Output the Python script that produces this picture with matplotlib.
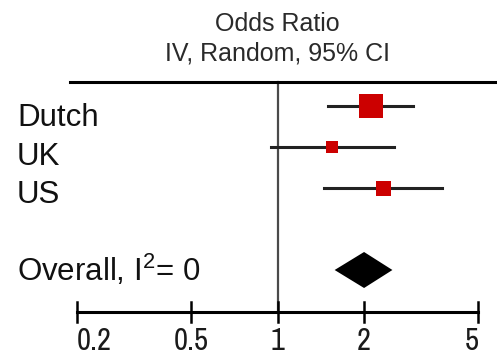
import matplotlib.pyplot as plt
import matplotlib.transforms as mtransforms
from matplotlib import font_manager
import numpy as np

# studies, odds ratios and 95% CI
studies = ['Dutch', 'UK', 'US']
odds = [2.11, 1.55, 2.33]
ci_low = [1.50, 0.95, 1.45]
ci_high = [2.97, 2.55, 3.72]
weights = [59, 16, 25]  # % weight, square area

overall_or = 2.0
overall_low = 1.58
overall_high = 2.51
overall_label = r'Overall, I$^\mathrm{2}$= 0'

tick_vals = [0.2, 0.5, 1, 2, 5]
tick_labels = ['0.2', '0.5', '1', '2', '5']

# layout (y in pixels from top)
row_y = [106, 147, 188]
label_y = [126, 165, 203]
overall_y = 270
overall_label_y = 281
top_line_y = 82
axis_y = 312

# a regular-weight condensed sans for the tick labels, if one is installed
narrow = None
for f in font_manager.fontManager.ttflist:
    if any(k in f.name for k in ('Narrow', 'Condensed')) and 'Mono' not in f.name \
            and 'Serif' not in f.name and f.style == 'normal' \
            and f.weight in (400, 'normal', 'regular'):
        narrow = f.name
        break
if narrow is None:
    narrow = 'Liberation Sans'

plt.rcParams['font.family'] = ['Liberation Sans', 'DejaVu Sans']
plt.rcParams['mathtext.fontset'] = 'custom'
plt.rcParams['mathtext.rm'] = 'Liberation Sans'

fig = plt.figure(figsize=(4.97, 3.6), dpi=100)
ax = fig.add_axes([0, 0, 1, 1])
ax.set_xscale('log')
ax.set_xlim(0.1083, 5.80)
ax.set_ylim(360, 0)
ax.axis('off')
blend = mtransforms.blended_transform_factory(ax.transAxes, ax.transData)

# header
ax.text(1.0, 24, 'Odds Ratio', ha='center', va='center', fontsize=18, color='#2a2a2a')
ax.text(1.0, 54, 'IV, Random, 95% CI', ha='center', va='center', fontsize=18, color='#2a2a2a')
ax.plot([70 / 497, 1], [top_line_y, top_line_y], transform=blend, color='black', lw=2.2)

# line of no effect
ax.plot([1, 1], [top_line_y, axis_y], color='#4a4a4a', lw=1.6, zorder=1)

# studies
for i, name in enumerate(studies):
    y = row_y[i]
    ax.plot([ci_low[i], ci_high[i]], [y, y], color='#222222', lw=2.2, zorder=2)
    side = 3.0 * np.sqrt(weights[i]) * 0.72
    ax.plot(odds[i], y, marker='s', markersize=side, color='#cc0000',
            markeredgewidth=0, zorder=3)
    ax.text(17 / 497, label_y[i], name, transform=blend, ha='left',
            va='baseline', fontsize=22.5, color='#111111')

# pooled estimate
ax.fill([overall_low, overall_or, overall_high, overall_or],
        [overall_y, overall_y - 18, overall_y, overall_y + 18],
        color='black', lw=0, zorder=3)
ax.text(17 / 497, overall_label_y, overall_label, transform=blend, ha='left',
        va='baseline', fontsize=22.5, color='#111111')

# x axis
ax.plot([tick_vals[0], tick_vals[-1]], [axis_y, axis_y], color='black', lw=2.2)
for j, (v, lab) in enumerate(zip(tick_vals, tick_labels)):
    ax.plot([v, v], [axis_y - 10, axis_y + 10], color='black', lw=1.8)
    ha = 'left' if j == 0 else ('right' if j == len(tick_vals) - 1 else 'center')
    ax.text(v, 350, lab, ha=ha, va='baseline', fontsize=22, family=narrow,
            weight='normal', color='#1a1a1a')

fig.savefig('out.png', dpi=100)
